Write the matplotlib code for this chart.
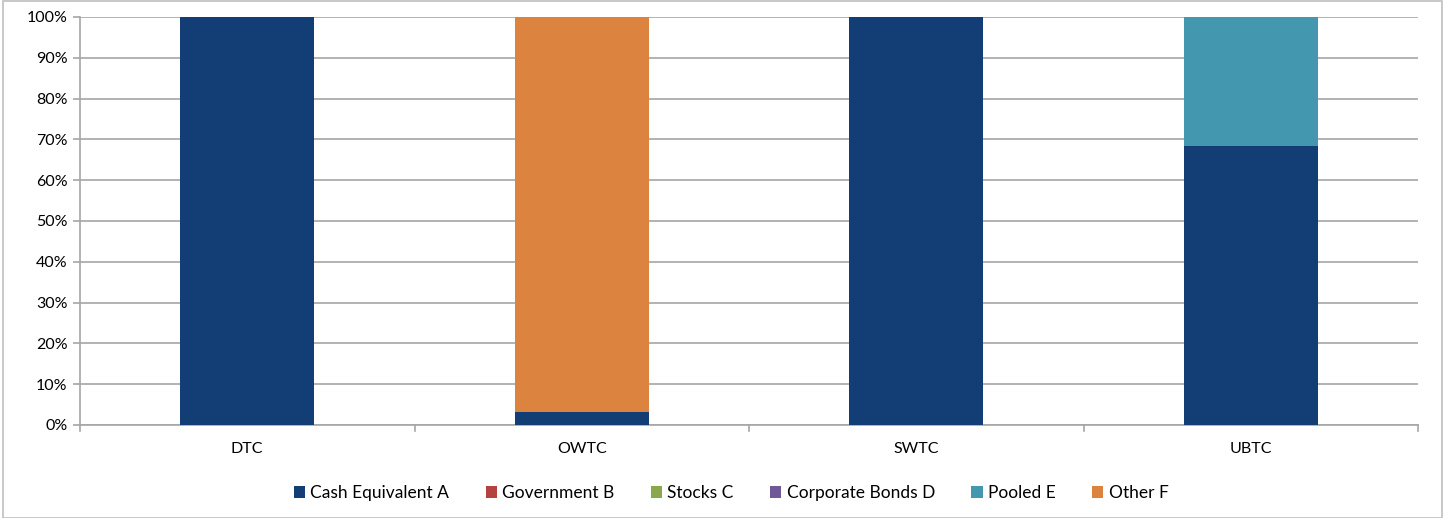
import matplotlib
matplotlib.use("Agg")
import matplotlib.pyplot as plt
from matplotlib.patches import Rectangle
import numpy as np

categories = ["DTC", "OWTC", "SWTC", "UBTC"]
series_names = ["Cash Equivalent A", "Government B", "Stocks C", "Corporate Bonds D", "Pooled E", "Other F"]
cash = [100.0, 3.2, 100.0, 68.4]
government = [0, 0, 0, 0]
stocks = [0, 0, 0, 0]
corporate = [0, 0, 0, 0]
pooled = [0, 0, 0, 31.6]
other = [0, 96.8, 0, 0]
y_ticks = [0, 10, 20, 30, 40, 50, 60, 70, 80, 90, 100]

colors = ["#133e75", "#b24341", "#8aa84b", "#705795", "#4398b0", "#dc843f"]
series = [cash, government, stocks, corporate, pooled, other]

plt.rcParams['font.family'] = ['Lato', 'DejaVu Sans']

fig = plt.figure(figsize=(14.46, 5.18), dpi=100)
ax = fig.add_axes([80/1446, 1 - 425/518, 1338/1446, 408/518])

x = np.arange(len(categories))
bottom = np.zeros(len(categories))
for name, vals, c in zip(series_names, series, colors):
    vals = np.array(vals, dtype=float)
    ax.bar(x, vals, width=0.4, bottom=bottom, color=c, label=name, zorder=3)
    bottom += vals

ax.set_xlim(-0.5, len(categories) - 0.5)
ax.set_ylim(0, 100)
ax.set_yticks(y_ticks)
ax.set_yticklabels([f"{v}%" for v in y_ticks], fontsize=11.5, color="#000000")
ax.yaxis.grid(True, color="#a6a6a6", linewidth=1.2, zorder=0)
ax.tick_params(axis='y', length=5, color="#a6a6a6", width=1.2, pad=4)

ax.set_xticks(x)
ax.set_xticklabels(categories, fontsize=11.5)
ax.tick_params(axis='x', length=0, pad=12)
for b in np.arange(-0.5, len(categories), 1.0):
    ax.plot([b, b], [0, -1.4], color="#a6a6a6", linewidth=1.2, clip_on=False, zorder=4)

for s in ["top", "right"]:
    ax.spines[s].set_visible(False)
ax.spines["left"].set_color("#a6a6a6")
ax.spines["bottom"].set_color("#a6a6a6")
ax.spines["left"].set_linewidth(1.2)
ax.spines["bottom"].set_linewidth(1.2)

leg = fig.legend(loc="center", bbox_to_anchor=(731/1446, 1 - 493/518), ncol=6, frameon=False,
                 fontsize=12.5, handlelength=0.65, handleheight=0.65, handletextpad=0.3,
                 columnspacing=2.1)

fig.patches.append(Rectangle((3/1446, 0), 1439/1446, 0.999, transform=fig.transFigure,
                             fill=False, edgecolor="#bfbfbf", linewidth=1.2))

fig.savefig("out.png", dpi=100)
